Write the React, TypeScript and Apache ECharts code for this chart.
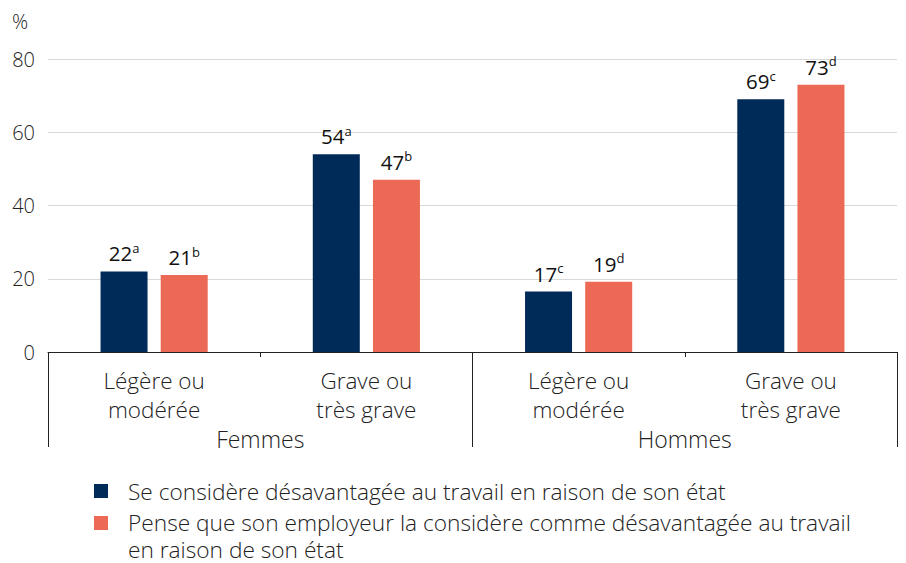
import React, { useEffect, useRef } from "react";
import * as echarts from "echarts";

const categories = ["Légère ou\nmodérée", "Grave ou\ntrès grave", "Légère ou\nmodérée", "Grave ou\ntrès grave"];
const groups = ["Femmes", "Hommes"];
const seriesNames = [
  "Se considère désavantagée au travail en raison de son état",
  "Pense que son employeur la considère comme désavantagée au travail\nen raison de son état",
];
const selfValues = [22, 54, 16.5, 69];
const employerValues = [21, 47, 19.2, 73];
const selfLabels = ["22", "54", "17", "69"];
const employerLabels = ["21", "47", "19", "73"];
const selfSup = ["a", "a", "c", "c"];
const employerSup = ["b", "b", "d", "d"];
const yTicks = { min: 0, max: 80, interval: 20 };

const NAVY = "#002a57";
const ORANGE = "#eb6955";
const FONT = "'Open Sans', sans-serif";
const TXT = "#222";

export default function App() {
  const ref = useRef<HTMLDivElement>(null);
  useEffect(() => {
    if (!ref.current) return;
    const chart = echarts.init(ref.current, undefined, { renderer: "svg" });
    const rich = {
      v: { fontSize: 20.5, fontFamily: FONT, fontWeight: 400, color: "#111", lineHeight: 24 },
      s: { fontSize: 13, fontFamily: FONT, fontWeight: 400, color: "#111", verticalAlign: "top", lineHeight: 24, padding: [0, 0, 8, 0] },
    };
    const mkLabel = (labels: string[], sups: string[]) => ({
      show: true,
      position: "top",
      distance: 6,
      formatter: (p: any) => `{v|${labels[p.dataIndex]}}{s|${sups[p.dataIndex]}}`,
      rich,
    });
    chart.setOption({
      animation: false,
      textStyle: { fontFamily: FONT, fontWeight: 300 },
      grid: { left: 48, right: 9, top: 59, bottom: 211 },
      xAxis: [
        {
          type: "category",
          data: categories,
          axisLine: { lineStyle: { color: "#222", width: 1 } },
          axisTick: { show: true, length: 5, lineStyle: { color: "#222" } },
          axisLabel: { fontSize: 22.5, color: TXT, fontFamily: FONT, fontWeight: 300, lineHeight: 29, margin: 14, interval: 0 },
        },
        {
          type: "category",
          data: groups,
          position: "bottom",
          axisLine: { show: false },
          axisTick: { show: true, length: 95, lineStyle: { color: "#222" } },
          axisLabel: { fontSize: 23, color: TXT, fontFamily: FONT, fontWeight: 300, lineHeight: 29, margin: 72 },
        },
      ],
      yAxis: {
        type: "value",
        min: yTicks.min,
        max: yTicks.max,
        interval: yTicks.interval,
        axisLine: { show: false },
        axisTick: { show: false },
        axisLabel: { fontSize: 20, color: TXT, fontFamily: FONT, fontWeight: 300, margin: 13 },
        splitLine: { lineStyle: { color: "#d9d9d9", width: 1 } },
      },
      graphic: [
        { type: "text", left: 12, top: 11, style: { text: "%", fontSize: 20, fill: TXT, fontFamily: FONT, fontWeight: 300 } },
        { type: "rect", shape: { x: 94, y: 484, width: 14, height: 14 }, style: { fill: NAVY } },
        { type: "text", x: 128, y: 491, style: { text: seriesNames[0], fontSize: 22.7, fill: TXT, fontFamily: FONT, fontWeight: 300, verticalAlign: "middle" } },
        { type: "rect", shape: { x: 94, y: 516, width: 14, height: 14 }, style: { fill: ORANGE } },
        { type: "text", x: 128, y: 508.5, style: { text: seriesNames[1], fontSize: 22.7, lineHeight: 27, fill: TXT, fontFamily: FONT, fontWeight: 300, verticalAlign: "top" } },
      ],
      series: [
        {
          name: seriesNames[0],
          type: "bar",
          data: selfValues,
          barWidth: 47,
          barGap: "28%",
          itemStyle: { color: NAVY },
          label: mkLabel(selfLabels, selfSup),
        },
        {
          name: seriesNames[1],
          type: "bar",
          data: employerValues,
          barWidth: 47,
          barGap: "28%",
          itemStyle: { color: ORANGE },
          label: mkLabel(employerLabels, employerSup),
        },
      ],
    });
    return () => chart.dispose();
  }, []);
  return <div ref={ref} style={{ width: 906, height: 563, position: "absolute", left: 0, top: 0 }} />;
}
